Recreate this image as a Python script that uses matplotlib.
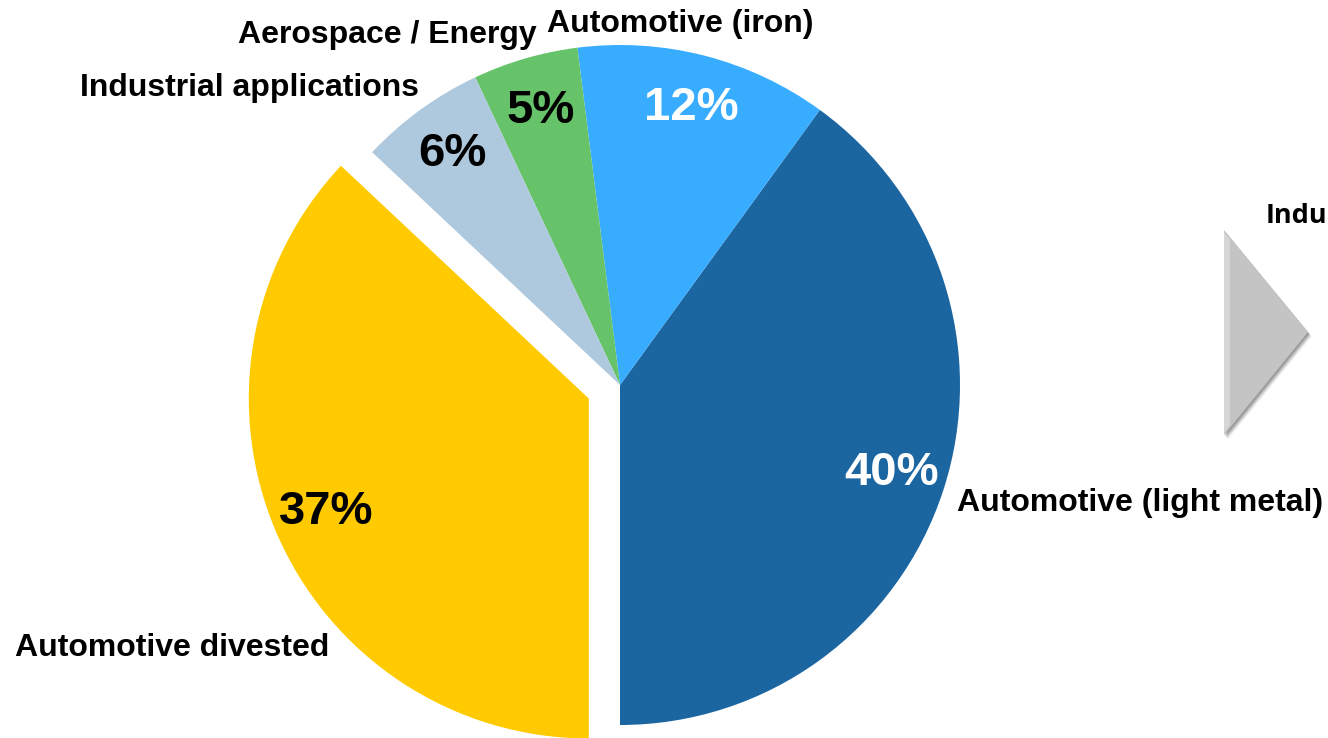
import matplotlib
matplotlib.use('Agg')
import matplotlib.pyplot as plt
from matplotlib.patches import Polygon

plt.rcParams['font.family'] = ['Liberation Sans', 'DejaVu Sans']

# Datos del grafico
segmentos = ['Automotive (light metal)', 'Automotive (iron)', 'Aerospace / Energy',
             'Industrial applications', 'Automotive divested']
valores = [40, 12, 5, 6, 37]
colores = ['#1B65A1', '#38ADFF', '#66C36A', '#AEC8DE', '#FFCB00']
color_pct = ['white', 'white', 'black', 'black', 'black']
separar = [0, 0, 0, 0, 0.1]

W, H = 1328, 738
fig = plt.figure(figsize=(W / 100, H / 100), dpi=100)
ax = fig.add_axes([0, 0, 1, 1])

# centro del pastel en (620, 385) px, radio 340 px
cx, cy, r = 620, 385, 340

wedges, texts, autotexts = ax.pie(valores, colors=colores, explode=separar,
                                  startangle=-90, counterclock=True,
                                  autopct='%.0f%%', pctdistance=0.84,
                                  textprops=dict(fontsize=34, fontweight='bold'))
for t, c in zip(autotexts, color_pct):
    t.set_color(c)

ax.set_xlim(-cx / r, (W - cx) / r)
ax.set_ylim(-(H - cy) / r, cy / r)
ax.set_aspect('equal')
ax.axis('off')

# Etiquetas externas (posicion en pixeles -> datos)
def px(x, y):
    return (x - cx) / r, (cy - y) / r

etiquetas = {
    'Automotive (light metal)': (957, 511),
    'Automotive (iron)': (547, 32),
    'Aerospace / Energy': (238, 43),
    'Industrial applications': (80, 96),
    'Automotive divested': (15, 656),
}
for nombre in segmentos:
    x, y = px(*etiquetas[nombre])
    ax.text(x, y, nombre, fontsize=23, fontweight='bold', ha='left', va='baseline')

# Flecha gris a la derecha (sombra + triangulo)
def fig_pts(pts, dx=0, dy=0):
    return [((x + dx) / W, 1 - (y + dy) / H) for x, y in pts]

tri = [(1224, 230), (1308, 332), (1224, 435)]
for k, a in zip([6, 5, 4, 3, 2], [0.05, 0.07, 0.09, 0.11, 0.13]):
    fig.add_artist(Polygon(fig_pts(tri, k * 0.6, k * 0.8), closed=True,
                           facecolor='black', edgecolor='none', alpha=a,
                           transform=fig.transFigure))
fig.add_artist(Polygon(fig_pts(tri), closed=True, facecolor='#C4C4C4',
                       edgecolor='none', transform=fig.transFigure))
fig.add_artist(Polygon(fig_pts([(1224, 232), (1230, 240), (1230, 425), (1224, 433)]),
                       closed=True, facecolor='#D6D6D6', edgecolor='none',
                       transform=fig.transFigure))

# texto recortado en el borde derecho, como en la original
x, y = px(1266, 223)
ax.text(x, y, 'Indu', fontsize=19.5, fontweight='bold',
        family=['Open Sans', 'DejaVu Sans'], ha='left', va='baseline')

fig.savefig('out.png', dpi=100)
